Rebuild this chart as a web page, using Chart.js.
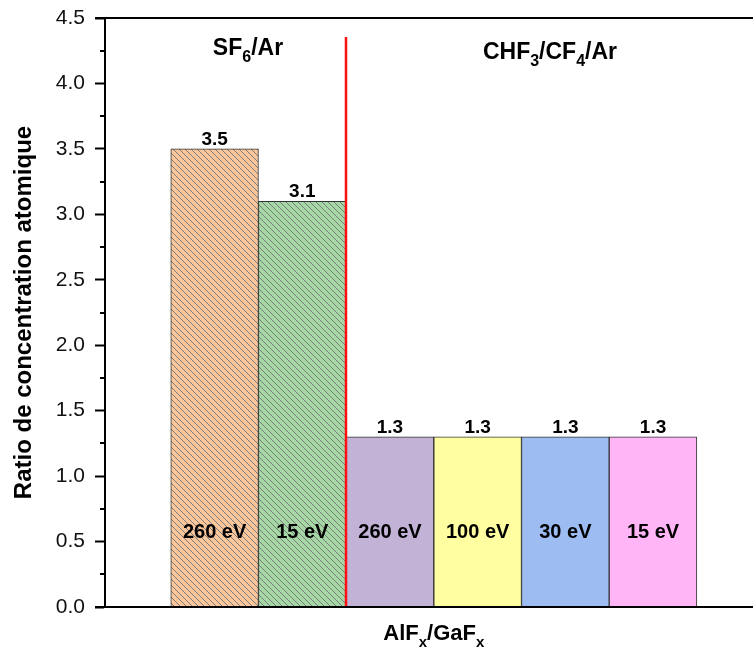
<!DOCTYPE html>
<html>
<head>
<meta charset="utf-8">
<script src="https://cdn.jsdelivr.net/npm/chart.js@4"></script>
<style>
  html, body { margin: 0; padding: 0; background: #fff; }
  #wrap { width: 753px; height: 648px; }
</style>
</head>
<body>
<div id="wrap"><canvas id="chart" width="753" height="648"></canvas></div>
<script>
const energies = ["260 eV", "15 eV", "260 eV", "100 eV", "30 eV", "15 eV"];
const ratios = [3.5, 3.1, 1.3, 1.3, 1.3, 1.3];
const fillColors = ["#fbc79a", "#a5d8a5", "#c2b2d6", "#ffffa2", "#9dbcf1", "#ffb5f6"];
const hatched = [true, true, false, false, false, false];
const groupNames = [
  [["SF", false], ["6", true], ["/Ar", false]],
  [["CHF", false], ["3", true], ["/CF", false], ["4", true], ["/Ar", false]],
];
const xTitle = [["AlF", false], ["x", true], ["/GaF", false], ["x", true]];

const FONT = "'Liberation Sans', Arial, sans-serif";
const canvas = document.getElementById("chart");
const mainCtx = canvas.getContext("2d");

function hatch(color) {
  const tile = document.createElement("canvas");
  tile.width = 6;
  tile.height = 6;
  const g = tile.getContext("2d");
  g.fillStyle = color;
  g.fillRect(0, 0, 6, 6);
  g.strokeStyle = "#7b7b7b";
  g.lineWidth = 1;
  g.beginPath();
  for (const x0 of [-6, 0, 6]) {
    g.moveTo(x0, 0);
    g.lineTo(x0 + 6, 6);
  }
  g.stroke();
  return mainCtx.createPattern(tile, "repeat");
}

function richText(ctx, parts, x, y, size, align) {
  const subSize = Math.round(size * 0.7);
  let w = 0;
  parts.forEach(([t, sub]) => {
    ctx.font = `bold ${sub ? subSize : size}px ${FONT}`;
    w += ctx.measureText(t).width;
  });
  let cx = align === "center" ? x - w / 2 : x;
  ctx.textAlign = "left";
  ctx.textBaseline = "alphabetic";
  parts.forEach(([t, sub]) => {
    ctx.font = `bold ${sub ? subSize : size}px ${FONT}`;
    ctx.fillText(t, cx, sub ? y + size * 0.3 : y);
    cx += ctx.measureText(t).width;
  });
}

const decorations = {
  id: "decorations",
  afterDatasetsDraw(chart) {
    const { ctx, chartArea } = chart;
    const xs = chart.scales.x;
    const ys = chart.scales.y;
    const meta = chart.getDatasetMeta(0);
    ctx.save();

    // minor ticks
    ctx.strokeStyle = "#000";
    ctx.lineWidth = 2;
    ctx.beginPath();
    for (let v = 0.25; v < 4.5; v += 0.5) {
      const py = Math.round(ys.getPixelForValue(v));
      ctx.moveTo(chartArea.left - 5, py);
      ctx.lineTo(chartArea.left, py);
    }
    // top frame and bottom axis
    ctx.moveTo(chartArea.left - 10, chartArea.top);
    ctx.lineTo(chartArea.right, chartArea.top);
    ctx.moveTo(chartArea.left - 10, chartArea.bottom);
    ctx.lineTo(chartArea.right, chartArea.bottom);
    ctx.stroke();

    // separator between the two gas mixtures
    ctx.strokeStyle = "#ff1010";
    ctx.lineWidth = 2.5;
    ctx.beginPath();
    const sx = Math.round(xs.getPixelForValue(2.5));
    ctx.moveTo(sx, ys.getPixelForValue(4.355));
    ctx.lineTo(sx, chartArea.bottom - 1);
    ctx.stroke();

    ctx.fillStyle = "#000";
    ctx.textAlign = "center";
    ctx.textBaseline = "alphabetic";
    meta.data.forEach((bar, i) => {
      ctx.font = `bold 19px ${FONT}`;
      ctx.fillText(ratios[i].toFixed(1), bar.x, bar.y - 4);
      ctx.font = `bold 20px ${FONT}`;
      ctx.fillText(energies[i], bar.x, ys.getPixelForValue(0.527));
    });

    richText(ctx, groupNames[0], xs.getPixelForValue(0.98), ys.getPixelForValue(4.217), 23, "left");
    richText(ctx, groupNames[1], xs.getPixelForValue(4.06), ys.getPixelForValue(4.187), 23, "left");
    richText(ctx, xTitle, xs.getPixelForValue(3.5), chartArea.bottom + 33, 22, "center");
    ctx.restore();
  },
};

new Chart(mainCtx, {
  type: "bar",
  data: {
    datasets: [
      {
        data: ratios.map((v, i) => ({ x: i + 1, y: v })),
        backgroundColor: fillColors.map((c, i) => (hatched[i] ? hatch(c) : c)),
        borderColor: "#333",
        borderWidth: 1,
        barPercentage: 1,
        categoryPercentage: 1,
      },
    ],
  },
  options: {
    responsive: false,
    animation: false,
    layout: { padding: { top: 18, right: 0, bottom: 0, left: 0 } },
    scales: {
      x: {
        type: "linear",
        min: -0.25,
        max: 7.14,
        offset: false,
        ticks: { display: false },
        grid: { display: false },
        border: { display: true, color: "#000", width: 2 },
        afterFit: (s) => { s.height = 41; },
      },
      y: {
        min: 0,
        max: 4.5,
        ticks: {
          stepSize: 0.5,
          padding: 10,
          color: "#111",
          font: { family: FONT, size: 21 },
          callback: (v) => v.toFixed(1),
        },
        grid: {
          drawOnChartArea: false,
          tickLength: 10,
          tickWidth: 2,
          tickColor: "#000",
        },
        border: { display: true, color: "#000", width: 2 },
        title: {
          display: true,
          text: "Ratio de concentration atomique",
          color: "#000",
          font: { family: FONT, size: 24, weight: "bold" },
          padding: { top: 10, bottom: 0 },
        },
        afterFit: (s) => {
          s.width = 105;
          s.paddingTop = 0;
          s.paddingBottom = 0;
        },
      },
    },
    plugins: {
      legend: { display: false },
      tooltip: { enabled: false },
    },
  },
  plugins: [decorations],
});
</script>
</body>
</html>
